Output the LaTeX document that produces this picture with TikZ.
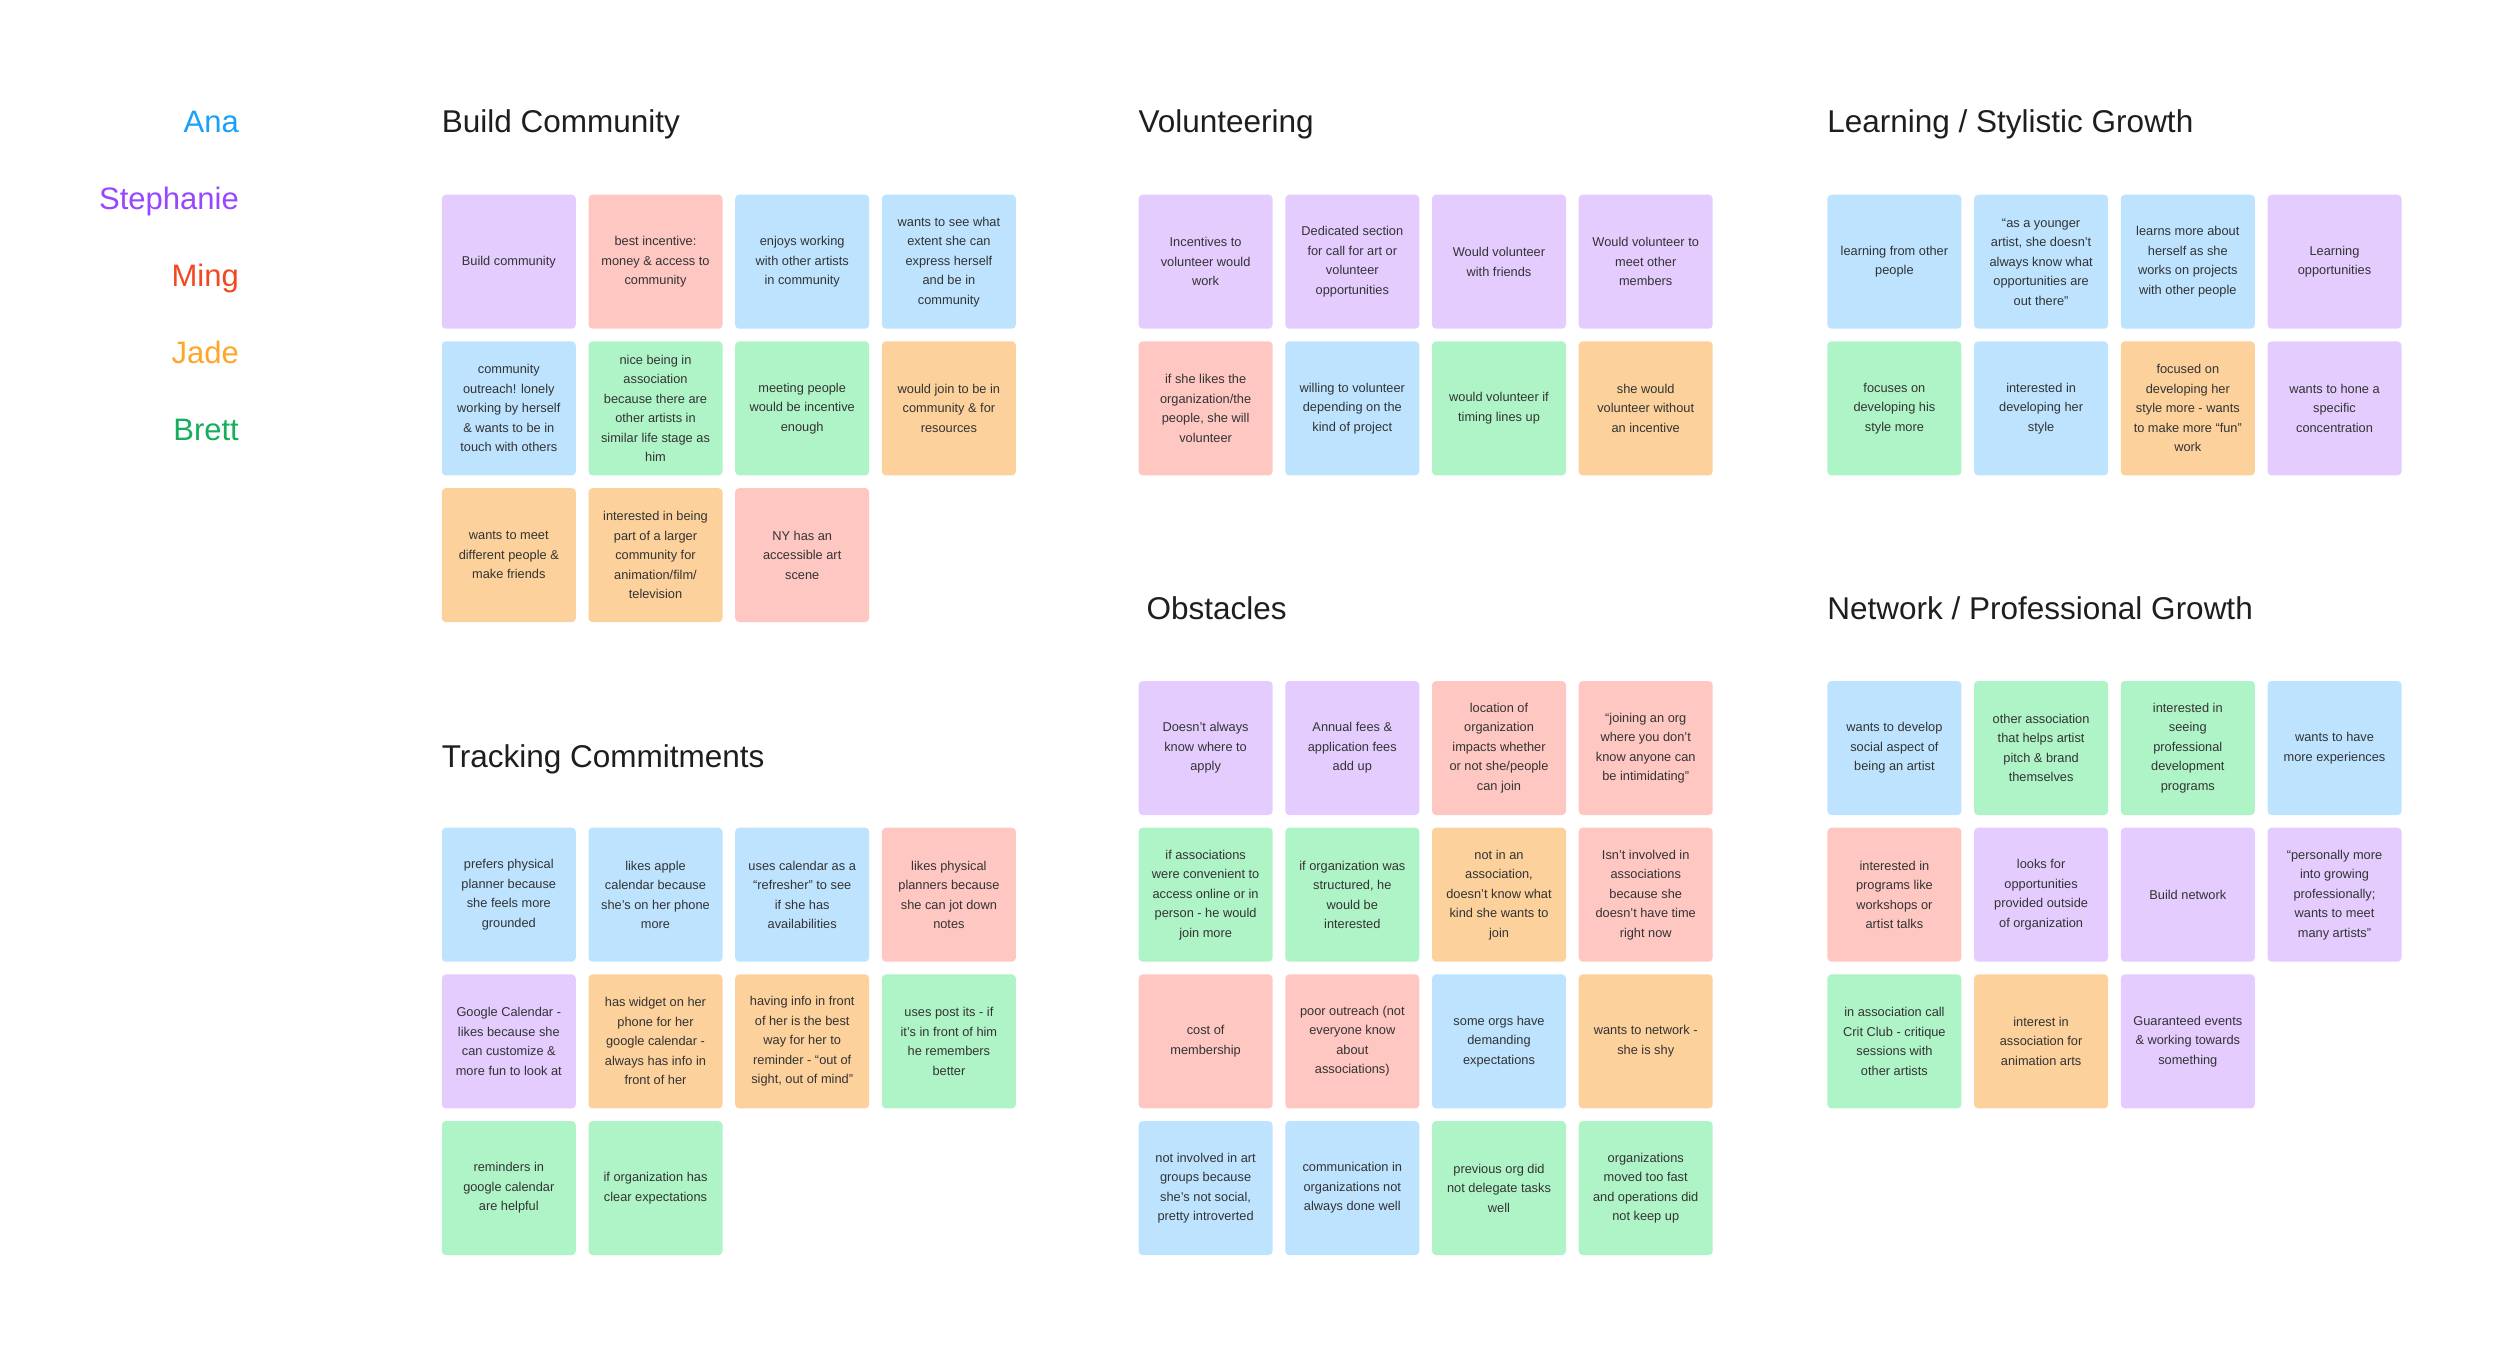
\documentclass[tikz,border=0pt]{standalone}
\usepackage{fontspec}
\setmainfont{Liberation Sans}
\definecolor{cpurple}{HTML}{E4CCFF}
\definecolor{cpink}{HTML}{FFC7C2}
\definecolor{cblue}{HTML}{BDE3FF}
\definecolor{cgreen}{HTML}{AFF4C6}
\definecolor{corange}{HTML}{FCD19C}
\definecolor{nAna}{HTML}{18A0FB}
\definecolor{nSteph}{HTML}{9747FF}
\definecolor{nMing}{HTML}{F24822}
\definecolor{nJade}{HTML}{FFA629}
\definecolor{nBrett}{HTML}{14AE5C}
\definecolor{ink}{HTML}{1E1E1E}
\definecolor{notetext}{HTML}{333333}
\tikzset{
  stickynote/.style={anchor=north west, minimum width=134pt, minimum height=134pt,
    rounded corners=4pt, inner sep=2pt, align=center, text=notetext,
    font=\fontsize{12.8}{19.5}\selectfont},
  clustertitle/.style={anchor=base west, inner sep=0pt, text=ink,
    font=\fontsize{31.5}{36}\selectfont},
  personname/.style={anchor=base east, inner sep=0pt,
    font=\fontsize{31}{36}\selectfont},
}
\newcommand\stickynote[7]{\node[stickynote, fill=#6] (#1) at ({#2+#4*146.7},{#3+#5*146.7}) {#7};}
\begin{document}
\begin{tikzpicture}[x=1pt,y=-1pt]
\useasboundingbox (0,0) rectangle (2500,1353);
\fill[white] (0,0) rectangle (2500,1353);

% legend
\node[personname, text=nAna] (ana) at (239,132) {Ana};
\node[personname, text=nSteph] (steph) at (239,209) {Stephanie};
\node[personname, text=nMing] (ming) at (239,286) {Ming};
\node[personname, text=nJade] (jade) at (239,363) {Jade};
\node[personname, text=nBrett] (brett) at (239,440) {Brett};

% titles
\node[clustertitle] (tbuild) at (441.6,132) {Build Community};
\node[clustertitle] (ttrack) at (441.6,767) {Tracking Commitments};
\node[clustertitle] (tvol) at (1138.4,132) {Volunteering};
\node[clustertitle] (tobs) at (1146.4,619) {Obstacles};
\node[clustertitle] (tlearn) at (1827.2,132) {Learning / Stylistic Growth};
\node[clustertitle] (tnet) at (1827.2,619) {Network / Professional Growth};

% Build Community
\stickynote{b1}{441.6}{194.5}{0}{0}{cpurple}{Build community}
\stickynote{b2}{441.6}{194.5}{1}{0}{cpink}{best incentive:\\money \& access to\\community}
\stickynote{b3}{441.6}{194.5}{2}{0}{cblue}{enjoys working\\with other artists\\in community}
\stickynote{b4}{441.6}{194.5}{3}{0}{cblue}{wants to see what\\extent she can\\express herself\\and be in\\community}
\stickynote{b5}{441.6}{194.5}{0}{1}{cblue}{community\\outreach! lonely\\working by herself\\\& wants to be in\\touch with others}
\stickynote{b6}{441.6}{194.5}{1}{1}{cgreen}{nice being in\\association\\because there are\\other artists in\\similar life stage as\\him}
\stickynote{b7}{441.6}{194.5}{2}{1}{cgreen}{meeting people\\would be incentive\\enough}
\stickynote{b8}{441.6}{194.5}{3}{1}{corange}{would join to be in\\community \& for\\resources}
\stickynote{b9}{441.6}{194.5}{0}{2}{corange}{wants to meet\\different people \&\\make friends}
\stickynote{b10}{441.6}{194.5}{1}{2}{corange}{interested in being\\part of a larger\\community for\\animation/film/\\television}
\stickynote{b11}{441.6}{194.5}{2}{2}{cpink}{NY has an\\accessible art\\scene}

% Tracking Commitments
\stickynote{t1}{441.6}{827.5}{0}{0}{cblue}{prefers physical\\planner because\\she feels more\\grounded}
\stickynote{t2}{441.6}{827.5}{1}{0}{cblue}{likes apple\\calendar because\\she’s on her phone\\more}
\stickynote{t3}{441.6}{827.5}{2}{0}{cblue}{uses calendar as a\\“refresher” to see\\if she has\\availabilities}
\stickynote{t4}{441.6}{827.5}{3}{0}{cpink}{likes physical\\planners because\\she can jot down\\notes}
\stickynote{t5}{441.6}{827.5}{0}{1}{cpurple}{Google Calendar -\\likes because she\\can customize \&\\more fun to look at}
\stickynote{t6}{441.6}{827.5}{1}{1}{corange}{has widget on her\\phone for her\\google calendar -\\always has info in\\front of her}
\stickynote{t7}{441.6}{827.5}{2}{1}{corange}{having info in front\\of her is the best\\way for her to\\reminder - “out of\\sight, out of mind”}
\stickynote{t8}{441.6}{827.5}{3}{1}{cgreen}{uses post its - if\\it’s in front of him\\he remembers\\better}
\stickynote{t9}{441.6}{827.5}{0}{2}{cgreen}{reminders in\\google calendar\\are helpful}
\stickynote{t10}{441.6}{827.5}{1}{2}{cgreen}{if organization has\\clear expectations}

% Volunteering
\stickynote{v1}{1138.4}{194.5}{0}{0}{cpurple}{Incentives to\\volunteer would\\work}
\stickynote{v2}{1138.4}{194.5}{1}{0}{cpurple}{Dedicated section\\for call for art or\\volunteer\\opportunities}
\stickynote{v3}{1138.4}{194.5}{2}{0}{cpurple}{Would volunteer\\with friends}
\stickynote{v4}{1138.4}{194.5}{3}{0}{cpurple}{Would volunteer to\\meet other\\members}
\stickynote{v5}{1138.4}{194.5}{0}{1}{cpink}{if she likes the\\organization/the\\people, she will\\volunteer}
\stickynote{v6}{1138.4}{194.5}{1}{1}{cblue}{willing to volunteer\\depending on the\\kind of project}
\stickynote{v7}{1138.4}{194.5}{2}{1}{cgreen}{would volunteer if\\timing lines up}
\stickynote{v8}{1138.4}{194.5}{3}{1}{corange}{she would\\volunteer without\\an incentive}

% Obstacles
\stickynote{o1}{1138.4}{680.8}{0}{0}{cpurple}{Doesn’t always\\know where to\\apply}
\stickynote{o2}{1138.4}{680.8}{1}{0}{cpurple}{Annual fees \&\\application fees\\add up}
\stickynote{o3}{1138.4}{680.8}{2}{0}{cpink}{location of\\organization\\impacts whether\\or not she/people\\can join}
\stickynote{o4}{1138.4}{680.8}{3}{0}{cpink}{“joining an org\\where you don’t\\know anyone can\\be intimidating”}
\stickynote{o5}{1138.4}{680.8}{0}{1}{cgreen}{if associations\\were convenient to\\access online or in\\person - he would\\join more}
\stickynote{o6}{1138.4}{680.8}{1}{1}{cgreen}{if organization was\\structured, he\\would be\\interested}
\stickynote{o7}{1138.4}{680.8}{2}{1}{corange}{not in an\\association,\\doesn’t know what\\kind she wants to\\join}
\stickynote{o8}{1138.4}{680.8}{3}{1}{cpink}{Isn’t involved in\\associations\\because she\\doesn’t have time\\right now}
\stickynote{o9}{1138.4}{680.8}{0}{2}{cpink}{cost of\\membership}
\stickynote{o10}{1138.4}{680.8}{1}{2}{cpink}{poor outreach (not\\everyone know\\about\\associations)}
\stickynote{o11}{1138.4}{680.8}{2}{2}{cblue}{some orgs have\\demanding\\expectations}
\stickynote{o12}{1138.4}{680.8}{3}{2}{corange}{wants to network -\\she is shy}
\stickynote{o13}{1138.4}{680.8}{0}{3}{cblue}{not involved in art\\groups because\\she’s not social,\\pretty introverted}
\stickynote{o14}{1138.4}{680.8}{1}{3}{cblue}{communication in\\organizations not\\always done well}
\stickynote{o15}{1138.4}{680.8}{2}{3}{cgreen}{previous org did\\not delegate tasks\\well}
\stickynote{o16}{1138.4}{680.8}{3}{3}{cgreen}{organizations\\moved too fast\\and operations did\\not keep up}

% Learning / Stylistic Growth
\stickynote{l1}{1827.2}{194.5}{0}{0}{cblue}{learning from other\\people}
\stickynote{l2}{1827.2}{194.5}{1}{0}{cblue}{“as a younger\\artist, she doesn’t\\always know what\\opportunities are\\out there”}
\stickynote{l3}{1827.2}{194.5}{2}{0}{cblue}{learns more about\\herself as she\\works on projects\\with other people}
\stickynote{l4}{1827.2}{194.5}{3}{0}{cpurple}{Learning\\opportunities}
\stickynote{l5}{1827.2}{194.5}{0}{1}{cgreen}{focuses on\\developing his\\style more}
\stickynote{l6}{1827.2}{194.5}{1}{1}{cblue}{interested in\\developing her\\style}
\stickynote{l7}{1827.2}{194.5}{2}{1}{corange}{focused on\\developing her\\style more - wants\\to make more “fun”\\work}
\stickynote{l8}{1827.2}{194.5}{3}{1}{cpurple}{wants to hone a\\specific\\concentration}

% Network / Professional Growth
\stickynote{n1}{1827.2}{680.8}{0}{0}{cblue}{wants to develop\\social aspect of\\being an artist}
\stickynote{n2}{1827.2}{680.8}{1}{0}{cgreen}{other association\\that helps artist\\pitch \& brand\\themselves}
\stickynote{n3}{1827.2}{680.8}{2}{0}{cgreen}{interested in\\seeing\\professional\\development\\programs}
\stickynote{n4}{1827.2}{680.8}{3}{0}{cblue}{wants to have\\more experiences}
\stickynote{n5}{1827.2}{680.8}{0}{1}{cpink}{interested in\\programs like\\workshops or\\artist talks}
\stickynote{n6}{1827.2}{680.8}{1}{1}{cpurple}{looks for\\opportunities\\provided outside\\of organization}
\stickynote{n7}{1827.2}{680.8}{2}{1}{cpurple}{Build network}
\stickynote{n8}{1827.2}{680.8}{3}{1}{cpurple}{“personally more\\into growing\\professionally;\\wants to meet\\many artists”}
\stickynote{n9}{1827.2}{680.8}{0}{2}{cgreen}{in association call\\Crit Club - critique\\sessions with\\other artists}
\stickynote{n10}{1827.2}{680.8}{1}{2}{corange}{interest in\\association for\\animation arts}
\stickynote{n11}{1827.2}{680.8}{2}{2}{cpurple}{Guaranteed events\\\& working towards\\something}
\end{tikzpicture}
\end{document}
